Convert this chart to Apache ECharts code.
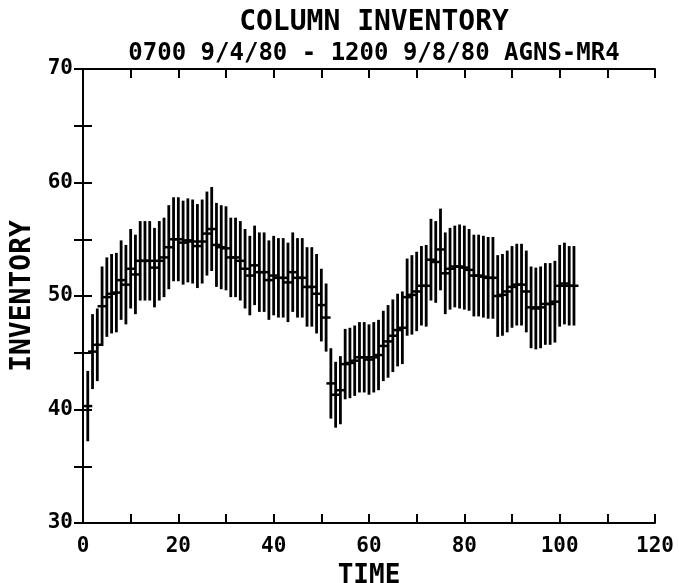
<!DOCTYPE html>
<html>
<head>
<meta charset="utf-8">
<script src="https://cdn.jsdelivr.net/npm/echarts@6/dist/echarts.min.js"></script>
<style>
  html, body { margin: 0; padding: 0; background: #fff; }
  #chart { width: 679px; height: 583px; }
</style>
</head>
<body>
<div id="chart"></div>
<script>
  // time steps (one error bar each)
  const times = [
    1, 2, 3, 4, 5, 6, 7, 8, 9, 10,
    11, 12, 13, 14, 15, 16, 17, 18, 19, 20,
    21, 22, 23, 24, 25, 26, 27, 28, 29, 30,
    31, 32, 33, 34, 35, 36, 37, 38, 39, 40,
    41, 42, 43, 44, 45, 46, 47, 48, 49, 50,
    51, 52, 53, 54, 55, 56, 57, 58, 59, 60,
    61, 62, 63, 64, 65, 66, 67, 68, 69, 70,
    71, 72, 73, 74, 75, 76, 77, 78, 79, 80,
    81, 82, 83, 84, 85, 86, 87, 88, 89, 90,
    91, 92, 93, 94, 95, 96, 97, 98, 99, 100,
    101, 102, 103
  ]
  // mean inventory at each time
  const inventory = [
    40.3, 45.1, 45.7, 49.1, 49.9, 50.2, 50.3, 51.4, 51.0, 52.4,
    51.9, 53.1, 53.1, 53.1, 52.5, 53.1, 53.4, 54.3, 55.0, 55.0,
    54.7, 54.9, 54.8, 54.4, 54.8, 55.5, 55.9, 54.5, 54.3, 54.2,
    53.4, 53.4, 53.1, 52.4, 51.8, 52.7, 52.1, 52.1, 51.4, 51.8,
    51.6, 51.6, 51.2, 52.1, 51.6, 51.6, 50.8, 50.8, 50.2, 49.2,
    48.1, 42.3, 41.3, 41.7, 44.0, 44.1, 44.3, 44.6, 44.6, 44.4,
    44.6, 44.8, 45.6, 46.0, 46.5, 47.0, 47.2, 49.9, 50.1, 50.4,
    50.9, 50.9, 53.2, 53.0, 54.1, 52.0, 52.4, 52.6, 52.6, 52.5,
    52.3, 51.8, 51.8, 51.7, 51.6, 51.6, 50.0, 50.1, 50.4, 50.8,
    51.0, 51.0, 50.4, 49.0, 48.9, 49.0, 49.3, 49.3, 49.5, 50.9,
    51.1, 50.9, 50.9
  ]
  // half length of each error bar
  const errHalf = [
    3.1, 3.3, 3.2, 3.5, 3.5, 3.5, 3.5, 3.5, 3.5, 3.5,
    3.5, 3.5, 3.5, 3.5, 3.5, 3.5, 3.5, 3.7, 3.7, 3.7,
    3.7, 3.7, 3.7, 3.7, 3.7, 3.7, 3.7, 3.7, 3.7, 3.7,
    3.5, 3.5, 3.5, 3.5, 3.5, 3.5, 3.5, 3.5, 3.5, 3.5,
    3.5, 3.5, 3.5, 3.5, 3.5, 3.5, 3.5, 3.5, 3.5, 3.2,
    3.0, 3.1, 2.9, 3.0, 3.1, 3.1, 3.1, 3.1, 3.1, 3.1,
    3.1, 3.1, 3.1, 3.2, 3.2, 3.2, 3.2, 3.4, 3.5, 3.5,
    3.5, 3.6, 3.6, 3.6, 3.6, 3.6, 3.6, 3.6, 3.7, 3.7,
    3.6, 3.6, 3.6, 3.6, 3.6, 3.6, 3.6, 3.6, 3.6, 3.6,
    3.6, 3.6, 3.6, 3.6, 3.6, 3.6, 3.6, 3.6, 3.6, 3.6,
    3.6, 3.5, 3.5
  ]
  const xTicks = [0, 20, 40, 60, 80, 100, 120]
  const yTicks = [30, 40, 50, 60, 70]

  const FONT = '"DejaVu Sans Mono", monospace'
  const INK = '#000'

  const chart = echarts.init(document.getElementById('chart'))

  const seriesData = times.map((t, i) => [t, inventory[i], errHalf[i]])

  function renderBar(params, api) {
    const t = api.value(0)
    const v = api.value(1)
    const e = api.value(2)
    const lo = api.coord([t, v - e])
    const hi = api.coord([t, v + e])
    const mid = api.coord([t, v])
    return {
      type: 'group',
      children: [
        {
          type: 'line',
          shape: { x1: lo[0], y1: lo[1], x2: hi[0], y2: hi[1] },
          style: { stroke: INK, lineWidth: 2.8 }
        },
        {
          type: 'line',
          shape: { x1: mid[0] - 4.5, y1: mid[1], x2: mid[0] + 4.5, y2: mid[1] },
          style: { stroke: INK, lineWidth: 2.5 }
        }
      ]
    }
  }

  const axisLine = { show: true, lineStyle: { color: INK, width: 2 } }
  const axisTick = { show: true, inside: true, length: 9, lineStyle: { color: INK, width: 2 } }
  const labelStyle = { color: INK, fontFamily: FONT, fontWeight: 'bold', fontSize: 21 }

  chart.setOption({
    animation: false,
    backgroundColor: '#fff',
    title: [
      {
        text: 'COLUMN INVENTORY',
        left: 369, top: 4, textAlign: 'center',
        textStyle: { color: INK, fontFamily: FONT, fontWeight: 'bold', fontSize: 28 }
      },
      {
        text: '0700 9/4/80 - 1200 9/8/80 AGNS-MR4',
        left: 369, top: 37, textAlign: 'center',
        textStyle: { color: INK, fontFamily: FONT, fontWeight: 'bold', fontSize: 24 }
      }
    ],
    grid: { left: 83, right: 24, top: 69, bottom: 60, containLabel: false, outerBoundsMode: 'none' },
    xAxis: [
      {
        type: 'value', position: 'bottom', min: 0, max: 120, interval: 10,
        name: 'TIME', nameLocation: 'middle', nameGap: 40,
        nameTextStyle: { color: INK, fontFamily: FONT, fontWeight: 'bold', fontSize: 26 },
        axisLine, axisTick,
        axisLabel: {
          ...labelStyle, margin: 13,
          formatter: (val) => (xTicks.includes(val) ? String(val) : '')
        },
        splitLine: { show: false }
      },
      {
        type: 'value', position: 'top', min: 0, max: 120, interval: 10,
        axisLine, axisTick, axisLabel: { show: false }, splitLine: { show: false }
      }
    ],
    yAxis: [
      {
        type: 'value', position: 'left', min: 30, max: 70, interval: 5,
        name: 'INVENTORY', nameLocation: 'middle', nameGap: 45,
        nameTextStyle: { color: INK, fontFamily: FONT, fontWeight: 'bold', fontSize: 28 },
        axisLine, axisTick,
        axisLabel: {
          ...labelStyle, margin: 10,
          formatter: (val) => (yTicks.includes(val) ? String(val) : '')
        },
        splitLine: { show: false }
      },
      {
        type: 'value', position: 'right', min: 30, max: 70, interval: 5,
        axisLine, axisTick, axisLabel: { show: false }, splitLine: { show: false }
      }
    ],
    series: [
      {
        type: 'custom',
        xAxisIndex: 0,
        yAxisIndex: 0,
        renderItem: renderBar,
        encode: { x: 0, y: [1] },
        data: seriesData,
        clip: true
      }
    ]
  })
</script>
</body>
</html>
